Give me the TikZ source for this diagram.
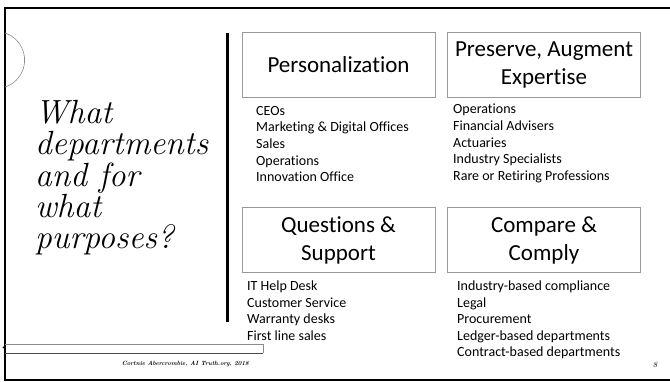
\documentclass[tikz,border=0pt]{standalone}
\usepackage{fontspec}
\newfontfamily\calibri[Ligatures=NoCommon]{Carlito}
\begin{document}
\begin{tikzpicture}[x=1pt,y=-1pt,
  titlebox/.style={draw=black!40, line width=0.7pt, minimum width=193pt, minimum height=65pt, inner sep=0pt, align=center,
     font=\calibri\fontsize{23}{28}\selectfont},
  listtext/.style={anchor=north west, inner sep=0pt, align=left,
     font=\calibri\fontsize{14}{16.6}\selectfont}]
\useasboundingbox (0,0) rectangle (670,382);
% frame
\draw[line width=2.6pt] (670,8) -- (5,8) -- (5,380) -- (670,380);
\draw[black!45, line width=0.6pt] (5,33) arc[start angle=-72, end angle=72, radius=28.4];
% vertical rule
\draw[line width=3pt] (227,33) -- (227,322);
% title
\node[anchor=north west, inner sep=0pt, align=left, font=\fontsize{33.5}{31.3}\selectfont\itshape] (title) at (35,100)
  {What\\departments\\and for\\what\\purposes?};
% boxes
\node[titlebox] (pers) at (338.5,64.5) {Personalization};
\node[titlebox] (pres) at (544,64.5) {Preserve, Augment\\Expertise};
\node[titlebox] (ques) at (338.5,240) {Questions \&\\Support};
\node[titlebox] (comp) at (544,240) {Compare \&\\Comply};
% lists
\node[listtext] (l1) at (256,106) {CEOs\\Marketing \& Digital Offices\\Sales\\Operations\\Innovation Office};
\node[listtext] (l2) at (453,104) {Operations\\Financial Advisers\\Actuaries\\Industry Specialists\\Rare or Retiring Professions};
\node[listtext] (l3) at (247,280.5) {IT Help Desk\\Customer Service\\Warranty desks\\First line sales};
\node[listtext] (l4) at (457,280.5) {Industry-based compliance\\Legal\\Procurement\\Ledger-based departments\\Contract-based departments};
% footer
\draw[black!45, line width=0.6pt] (5,344) -- (263,344) -- (263,353);
\draw[black!70, line width=0.6pt] (263,353) -- (5,353);
\fill (3.5,347.5) circle (1pt);
\node[anchor=base east, inner sep=0pt, font=\fontsize{6.1}{8}\selectfont\bfseries\itshape] (foot) at (249,365.5) {Cortnie Abercrombie, AI Truth.org, 2018};
\node[anchor=base, inner sep=0pt, font=\fontsize{8}{9}\selectfont\itshape] (pnum) at (655,367) {8};
\end{tikzpicture}
\end{document}
